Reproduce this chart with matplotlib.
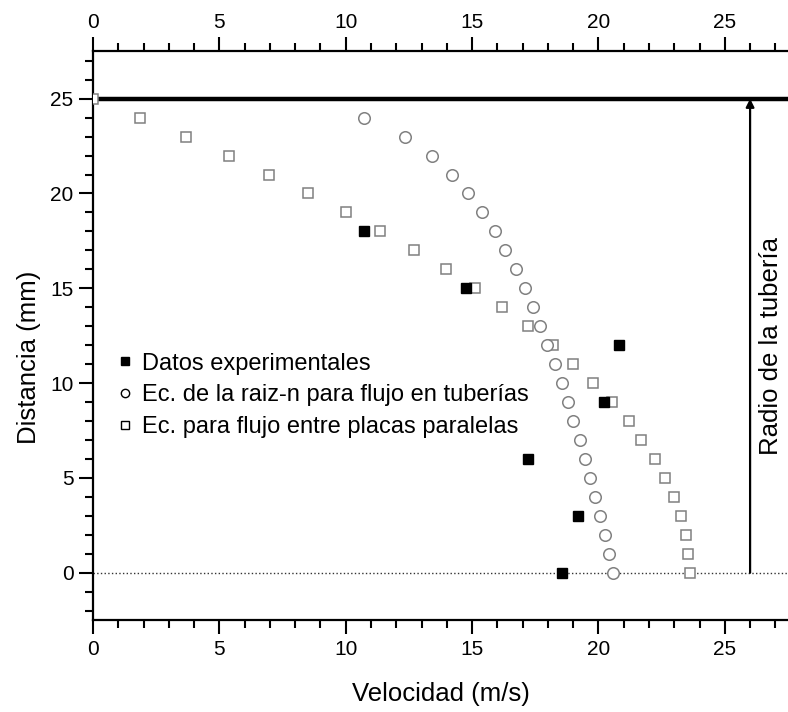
import numpy as np
import matplotlib
matplotlib.use("Agg")
import matplotlib.pyplot as plt
from matplotlib.ticker import MultipleLocator

plt.rcParams['font.family'] = ['Liberation Sans', 'DejaVu Sans']

# datos experimentales
y_exp = [18, 15, 12, 9, 6, 3, 0]
v_exp = [10.72, 14.76, 20.8, 20.2, 17.2, 19.2, 18.55]

# ecuacion de la raiz-n (tuberias)
y_raiz = [24, 23, 22, 21, 20, 19, 18, 17, 16, 15, 14, 13, 12,
          11, 10, 9, 8, 7, 6, 5, 4, 3, 2, 1, 0]
v_raiz = [10.72, 12.35, 13.4, 14.2, 14.85, 15.4, 15.9, 16.3, 16.75, 17.1, 17.4,
          17.7, 17.95, 18.3, 18.56, 18.8, 19.0, 19.27, 19.48, 19.67, 19.87,
          20.06, 20.25, 20.42, 20.58]

# flujo entre placas paralelas
y_plac = [25, 24, 23, 22, 21, 20, 19, 18, 17, 16, 15, 14, 13, 12,
          11, 10, 9, 8, 7, 6, 5, 4, 3, 2, 1, 0]
v_plac = [0.0, 1.87, 3.67, 5.37, 6.97, 8.5, 10.0, 11.36, 12.7, 13.96, 15.1,
          16.2, 17.2, 18.2, 19.0, 19.8, 20.55, 21.2, 21.7, 22.24, 22.64,
          23.0, 23.25, 23.45, 23.55, 23.63]

R = 25          # radio de la tuberia (mm)
x_flecha = 26.0

fig = plt.figure(figsize=(7.88, 7.12), dpi=100)
ax = fig.add_axes([0.118, 0.129, 0.882, 0.799])

gris = '#808080'
ax.axhline(0, color='#333333', ls=':', lw=1.0, zorder=1)
ax.axhline(R, color='k', lw=3.2, zorder=2)
ax.annotate('', xy=(x_flecha, R), xytext=(x_flecha, 0),
            arrowprops=dict(arrowstyle='-|>', color='k', lw=1.6,
                            mutation_scale=12, shrinkA=0, shrinkB=0))
ax.text(26.83, 11.95, 'Radio de la tubería', rotation=90, fontsize=18.5,
        ha='center', va='center')

ax.plot(v_plac, y_plac, ls='none', marker='s', ms=7.5, mfc='white', mec=gris,
        mew=1.1, zorder=3, label='Ec. para flujo entre placas paralelas')
ax.plot(v_raiz, y_raiz, ls='none', marker='o', ms=8.3, mfc='white', mec=gris,
        mew=1.1, zorder=3, label='Ec. de la raiz-n para flujo en tuberías')
ax.plot(v_exp, y_exp, ls='none', marker='s', ms=7, mfc='k', mec='k',
        zorder=4, label='Datos experimentales')

h, l = ax.get_legend_handles_labels()
leg = ax.legend(h[::-1], l[::-1], loc='center left',
                bbox_to_anchor=(0.0375, 0.395), frameon=False, fontsize=17,
                handlelength=0.5, handletextpad=0.47, borderpad=0,
                borderaxespad=0, labelspacing=0.42)
for lh in leg.legend_handles:
    lh.set_markeredgecolor('k')
    lh.set_markersize(6)
    lh.set_markeredgewidth(1.0)

ax.set_xlim(0, 27.5)
ax.set_ylim(-2.5, 27.5)
ax.xaxis.set_major_locator(MultipleLocator(5))
ax.xaxis.set_minor_locator(MultipleLocator(1))
ax.yaxis.set_major_locator(MultipleLocator(5))
ax.yaxis.set_minor_locator(MultipleLocator(1))
ax.tick_params(which='both', direction='out', top=True, labeltop=True,
               right=False, width=1.5, labelsize=15, pad=4)
ax.tick_params(which='major', length=10)
ax.tick_params(which='minor', length=6)
for s in ['left', 'top', 'bottom']:
    ax.spines[s].set_linewidth(1.6)
ax.spines['right'].set_visible(False)

ax.set_xlabel('Velocidad (m/s)', fontsize=18.5)
ax.set_ylabel('Distancia (mm)', fontsize=18.5)
ax.xaxis.set_label_coords(0.5, -0.108)
ax.yaxis.set_label_coords(-0.092, 0.462)
ax.yaxis.label.set_va('center')

fig.savefig('out.png', dpi=100)
